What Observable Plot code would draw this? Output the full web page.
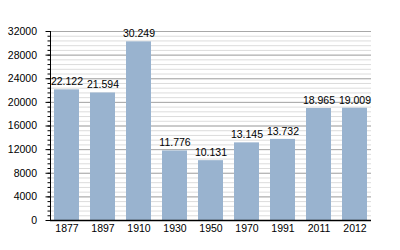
<!DOCTYPE html>
<html>
<head>
<meta charset="utf-8">
<script src="https://cdn.jsdelivr.net/npm/d3@7"></script>
<script src="https://cdn.jsdelivr.net/npm/@observablehq/plot@0.6"></script>
<style>
  html, body { margin: 0; padding: 0; background: #fff; }
  svg { display: block; }
</style>
</head>
<body>
<div id="chart"></div>
<script>
const years = ["1877", "1897", "1910", "1930", "1950", "1970", "1991", "2011", "2012"];
const population = [22122, 21594, 30249, 11776, 10131, 13145, 13732, 18965, 19009];
const majorTicks = [0, 4000, 8000, 12000, 16000, 20000, 24000, 28000, 32000];
const minorTicks = d3.range(0, 32001, 800);

const data = years.map((y, i) => ({year: y, value: population[i]}));
const fmt = v => v.toLocaleString("de-DE");

const chart = Plot.plot({
  width: 400,
  height: 250,
  marginTop: 31,
  marginBottom: 30,
  marginLeft: 50,
  marginRight: 29,
  style: {fontFamily: "'Liberation Sans', Arial, sans-serif", fontSize: "10px", color: "#000", background: "#fff"},
  x: {domain: years, paddingInner: 0.3, paddingOuter: 0.01, label: null},
  y: {domain: [0, 32000], label: null},
  marks: [
    Plot.ruleY(minorTicks, {stroke: "#dcdcdc", strokeWidth: 1}),
    Plot.ruleY(majorTicks, {stroke: "#a8a8a8", strokeWidth: 1}),
    Plot.barY(data, {x: "year", y: "value", fill: "#99b3cf"}),
    Plot.text(data, {x: "year", y: "value", text: d => fmt(d.value), dy: -8, fill: "#000", fontSize: 10.5}),
    Plot.axisY(minorTicks, {tickSize: 2.5, text: null, stroke: "#000"}),
    Plot.axisY(majorTicks, {tickSize: 4.5, tickPadding: 9, tickFormat: d => String(d), stroke: "#000", fill: "#000", fontSize: 10.5}),
    Plot.axisX({tickSize: 0, tickPadding: 4, fill: "#000", fontSize: 10.5}),
    Plot.frame({anchor: "left", stroke: "#000"}),
    Plot.ruleY([0], {stroke: "#000", strokeWidth: 1.5})
  ]
});
document.getElementById("chart").appendChild(chart);
</script>
</body>
</html>
